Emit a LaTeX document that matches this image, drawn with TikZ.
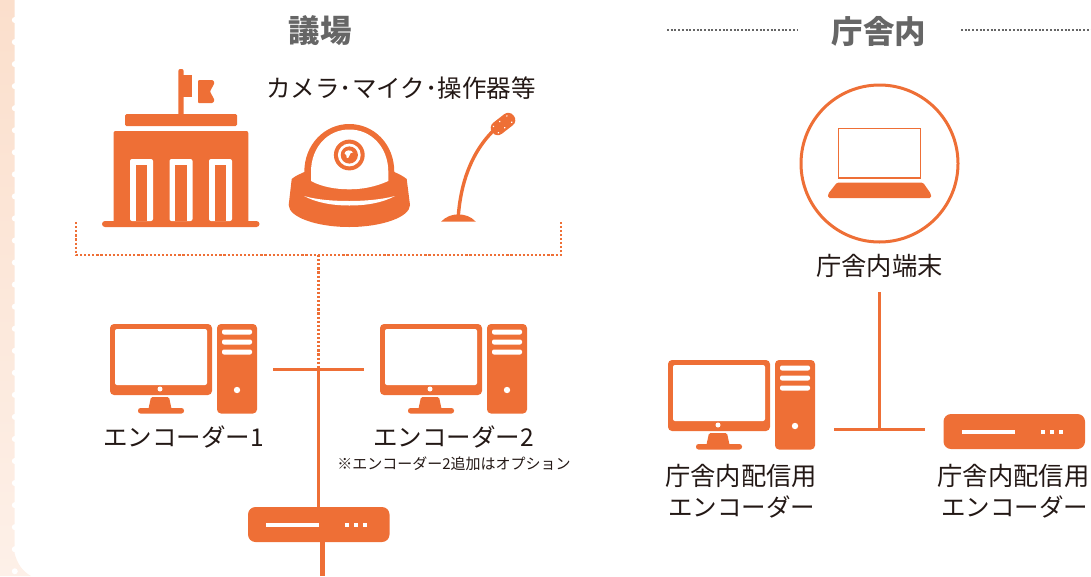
\documentclass[tikz,border=0pt]{standalone}
\usepackage{fontspec}
\setmainfont{Noto Sans CJK JP}
\usetikzlibrary{calc}
\definecolor{acc}{HTML}{EE6F36}
\definecolor{ink}{HTML}{231815}
\definecolor{head}{HTML}{666666}
\definecolor{bandtop}{HTML}{FBDFCC}
\definecolor{bandbot}{HTML}{FDF0E8}
\tikzset{
  x=1pt,y=-1pt,
  solidwire/.style={draw=acc,line width=3pt},
  dotwire/.style={draw=acc,line width=2.6pt,dash pattern=on 2.2pt off 1.9pt},
  headdots/.style={draw=head,line width=2.2pt,dash pattern=on 2pt off 1.7pt},
  lab/.style={font=\fontsize{24.5}{30}\selectfont,text=ink,inner sep=0pt,align=center},
  labk/.style={font=\fontsize{25.3}{30}\selectfont,text=ink,inner sep=0pt,align=center},
  note/.style={font=\fontsize{15}{18}\selectfont,text=ink,inner sep=0pt},
  heading/.style={font=\bfseries\fontsize{31.5}{36}\selectfont,text=head,inner sep=0pt},
  computer/.pic={
    \fill[acc,rounded corners=4pt] (0,0) rectangle (102,71);
    \fill[white,rounded corners=2pt] (5,5) rectangle (97,61);
    \fill[white] (50,65) circle (2.5);
    \fill[acc,rounded corners=1.5pt] (38,87) -- (41,73) -- (59,73) -- (62,87) -- cycle;
    \fill[acc,rounded corners=2.5pt] (28,84) rectangle (74,89.5);
    \fill[acc,rounded corners=4pt] (107,0) rectangle (147,89.5);
    \foreach \yy in {5.5,15.5,25.5}{
      \fill[white,rounded corners=2pt] (112,\yy) rectangle (142,\yy+5);
    }
    \fill[white] (127,66) circle (3.2);
    \coordinate (-c) at (73.5,45);
  },
  router/.pic={
    \fill[acc,rounded corners=7.5pt] (0,0) rectangle (141.5,35);
    \fill[white] (18,15.5) rectangle (71,19.8);
    \foreach \xx in {97,106,115}{
      \fill[white] (\xx,15.5) rectangle (\xx+4.3,19.8);
    }
    \coordinate (-n) at (70.75,0);
    \coordinate (-s) at (70.75,35);
  },
}
\begin{document}
\begin{tikzpicture}
\useasboundingbox (0,0) rectangle (1091,576);
% scalloped band
\shade[top color=bandtop,bottom color=bandbot] (0,0) -- (14.5,0) -- (14.5,553) .. controls (17,563) and (22,571) .. (31,576) -- (0,576) -- cycle;
\foreach \k in {0,...,25}{
  \fill[white] (14.8,20+22.05*\k) circle (3);
}
% headings
\node[heading] (h1) at (320,31) {議場};
\node[heading] (h2) at (879,31) {庁舎内};
\coordinate (d1a) at (667,30); \coordinate (d1b) at (797,30);
\coordinate (d2a) at (961,30); \coordinate (d2b) at (1091,30);
\draw[headdots] (d1a) -- (d1b);
\draw[headdots] (d2a) -- (d2b);
% building
\fill[acc,rounded corners=2pt] (178.3,73) -- (178.3,69) -- (183.7,69) -- (183.7,73) -- (183.7,116) -- (178.3,116) -- cycle;
\fill[acc] (183,75) rectangle (192,97);
\fill[acc,rounded corners=1pt] (198,80) -- (213,80) -- (214.5,83) -- (210,91.5) -- (214.5,100) -- (213,103) -- (198,103) -- cycle;
\fill[acc,rounded corners=1.5pt] (125,114) rectangle (237,126);
\fill[acc,rounded corners=2pt] (113.5,131) rectangle (248.3,224);
\fill[acc,rounded corners=3pt] (102,221) rectangle (259.5,227);
\foreach \xx in {130,169.5,209}{
  \fill[white,rounded corners=2pt] (\xx,221) -- (\xx,159) -- (\xx+23,159) -- (\xx+23,221) -- cycle;
  \fill[acc] (\xx+5.7,165) rectangle (\xx+17.3,221);
}
% camera
\fill[acc] (304.3,172) .. controls (304.3,144) and (325,124) .. (349.3,124) .. controls (374,124) and (394.3,144) .. (394.3,172)
  .. controls (399,174) and (403,176) .. (406.7,179) -- (410,205) .. controls (410,217) and (382,227) .. (349.3,227) .. controls (316,227) and (288.7,217) .. (288.7,205) -- (291.7,179) .. controls (295,176) and (300,174) .. (304.3,172) -- cycle;
\fill[white] (311,181) -- (311,172) .. controls (311,147) and (328,129.5) .. (349.3,129.5) .. controls (371,129.5) and (388.3,147) .. (388.3,172) -- (388.3,181) .. controls (375,187) and (362,189.3) .. (349.3,189.3) .. controls (336,189.3) and (322,187) .. (311,181) -- cycle;
\fill[white] (304,196) .. controls (318,200) and (334,201) .. (349.3,201) .. controls (365,201) and (382,199.5) .. (395,196) .. controls (382,203) and (366,205.5) .. (349.3,205.5) .. controls (332,205.5) and (316,202.5) .. (304,196) -- cycle;
\fill[acc] (349.3,155) circle (15.4);
\fill[white] (349.3,155) circle (11.4);
\fill[acc] (349.3,155) circle (8.6);
\fill[white] (344.5,153.5) .. controls (345,150) and (351,149) .. (353,152.5) .. controls (351,152) and (349.8,153.5) .. (349.5,155.5) .. controls (349,158) and (347.5,158.5) .. (346.8,158) .. controls (347,156) and (346,154) .. (344.5,153.5) -- cycle;
% microphone
\fill[acc] (441,221.7) .. controls (446,216.5) and (452,214.4) .. (458,214.4) .. controls (465,214.4) and (471,216.5) .. (475.8,221.7) -- cycle;
\draw[acc,line width=3.4pt] (458.3,216) .. controls (461,180) and (473,151) .. (493,131);
\begin{scope}[shift={(503,124)},rotate=38]
\fill[acc,rounded corners=6.5pt] (-13.5,-7) rectangle (13.5,7);
\foreach \a/\b in {-9/-4,-9/4,-1/-4,-1/4,8/-4,8/4}{
  \fill[white] (\a,\b) circle (0.85);
}
\end{scope}
% dotted bracket
\coordinate (bl) at (76,222); \coordinate (blc) at (76,255);
\coordinate (br) at (561,222); \coordinate (brc) at (561,255);
\coordinate (junc) at (318.5,369);
\coordinate (btop) at (318.5,255);
\draw[dotwire] (bl) -- (blc) -- (brc) -- (br);
\draw[dotwire] (btop) -- (junc);
% encoders
\pic (enc1) at (110,324) {computer};
\pic (enc2) at (380,324) {computer};
\pic (enc3) at (668,360) {computer};
\pic (rt1) at (248,507) {router};
\pic (rt2) at (943.5,414) {router};
\coordinate (w1a) at (273,369); \coordinate (w1b) at (364,369);
\draw[solidwire] (w1a) -- (w1b);
\draw[solidwire] (junc) -- (junc |- rt1-n);
\coordinate (exit) at (322.5,576);
\draw[draw=acc,line width=4.6pt] (exit |- rt1-s) -- (exit);
\coordinate (j2) at (879.5,429); \coordinate (j2t) at (879.5,292);
\coordinate (w2a) at (834,429); \coordinate (w2b) at (925,429);
\draw[solidwire] (w2a) -- (w2b);
\draw[solidwire] (j2t) -- (j2);
% laptop
\node[draw=acc,line width=3pt,circle,minimum size=157pt,inner sep=0pt] (term) at (879.5,163.5) {};
\draw[acc,line width=1.3pt] (838.3,128.7) rectangle (920.3,178);
\fill[acc,rounded corners=1.5pt] (837,182.5) -- (923,182.5) -- (931,194) -- (931,198) -- (828,198) -- (828,194) -- cycle;
% labels
\node[lab] (t0) at (401,88) {カメラ･マイク･操作器等};
\node[lab] (t1) at (183.5,437) {エンコーダー1};
\node[lab] (t2) at (453.5,437) {エンコーダー2};
\node[note] (t3) at (454,464) {※エンコーダー2追加はオプション};
\node[labk] (t4) at (879.5,266) {庁舎内端末};
\node[labk] (t5) at (741,476) {庁舎内配信用};
\node[lab] (t6) at (741.5,507) {エンコーダー};
\node[labk] (t7) at (1013.5,476) {庁舎内配信用};
\node[lab] (t8) at (1014.5,507) {エンコーダー};
\end{tikzpicture}
\end{document}
